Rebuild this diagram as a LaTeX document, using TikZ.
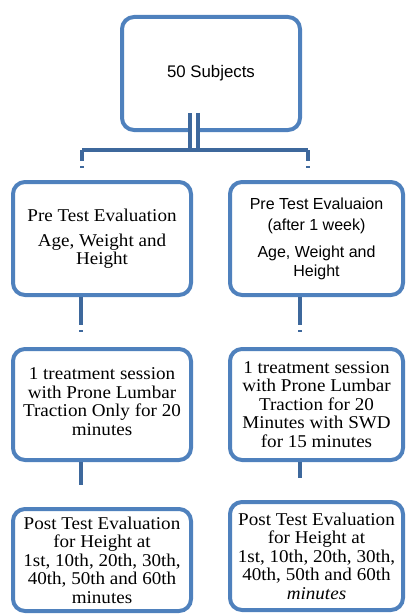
\documentclass[tikz,border=0pt]{standalone}
\usepackage{fontspec}
\setmainfont{Liberation Serif}[FakeStretch=1.06]
\setsansfont{Liberation Sans}
\usetikzlibrary{calc, positioning}
\definecolor{boxblue}{RGB}{79,129,189}
\definecolor{linkblue}{RGB}{62,104,156}
\tikzstyle{block} = [rectangle, rounded corners=12pt, draw=boxblue, line width=4pt, fill=white, text centered, align=center, inner sep=0pt, font=\fontsize{18}{18.5}\selectfont]
\tikzstyle{blocksans} = [block, font=\sffamily\fontsize{16}{19}\selectfont]
\tikzstyle{link} = [draw=linkblue, line width=4.5pt]

\begin{document}
\begin{tikzpicture}[x=1pt, y=1pt]
\useasboundingbox (0,0) rectangle (406,-615);

\node (subjects) [blocksans, minimum width=178pt, minimum height=113pt, font=\sffamily\fontsize{16.8}{19}\selectfont] at (211,-73.5) {50 Subjects};

\node (pre1) [block, minimum width=178pt, minimum height=113pt] at (102,-238.5) {Pre Test Evaluation\\[6.5pt] Age, Weight and\\ Height};
\node (pre2) [blocksans, minimum width=173pt, minimum height=113pt] at (316.5,-238.5) {Pre Test Evaluaion\\[2pt] (after 1 week)\\[8pt] Age, Weight and\\ Height};

\node (treat1) [block, minimum width=178pt, minimum height=111pt] at (102,-404.5) {1 treatment session\\ with Prone Lumbar\\ Traction Only for 20\\ minutes\\[-13pt]};
\node (treat2) [block, minimum width=173pt, minimum height=111pt] at (316.5,-404.5) {1 treatment session\\ with Prone Lumbar\\ Traction for 20\\ Minutes with SWD\\ for 15 minutes};

\node (post1) [block, minimum width=178pt, minimum height=102pt] at (102,-560) {Post Test Evaluation\\ for Height at\\ 1st, 10th, 20th, 30th,\\ 40th, 50th and 60th\\ minutes};
\node (post2) [block, minimum width=173pt, minimum height=108pt] at (316.5,-556) {Post Test Evaluation\\ for Height at\\ 1st, 10th, 20th, 30th,\\ 40th, 50th and 60th\\ \textit{minutes}};

% split under the top box
\coordinate (split) at (194,-150);
\coordinate (leftdrop) at (82,-150);
\coordinate (rightdrop) at (308,-150);
\draw [link, line width=4pt, double=white, double distance=4pt] ($(split |- subjects.south)+(0,19)$) -- (split);
\draw [link] (leftdrop) -- (rightdrop);
\draw [link, dash pattern=on 11pt off 5pt on 2pt off 60pt] (leftdrop) -- (leftdrop |- pre1.north);
\draw [link, dash pattern=on 11pt off 5pt on 2pt off 60pt] (rightdrop) -- (rightdrop |- pre2.north);

\draw [link, dash pattern=on 28pt off 5pt on 2pt off 60pt] ([xshift=-21pt]pre1.south) -- ([xshift=-21pt]treat1.north);
\draw [link, dash pattern=on 28pt off 5pt on 2pt off 60pt] ([xshift=-16.5pt]pre2.south) -- ([xshift=-16.5pt]treat2.north);

\draw [link, shorten >=22pt] ([xshift=-21pt]treat1.south) -- ([xshift=-21pt]post1.north);
\draw [link, shorten >=22pt] ([xshift=-16.5pt]treat2.south) -- ([xshift=-16.5pt]post2.north);

\end{tikzpicture}
\end{document}
